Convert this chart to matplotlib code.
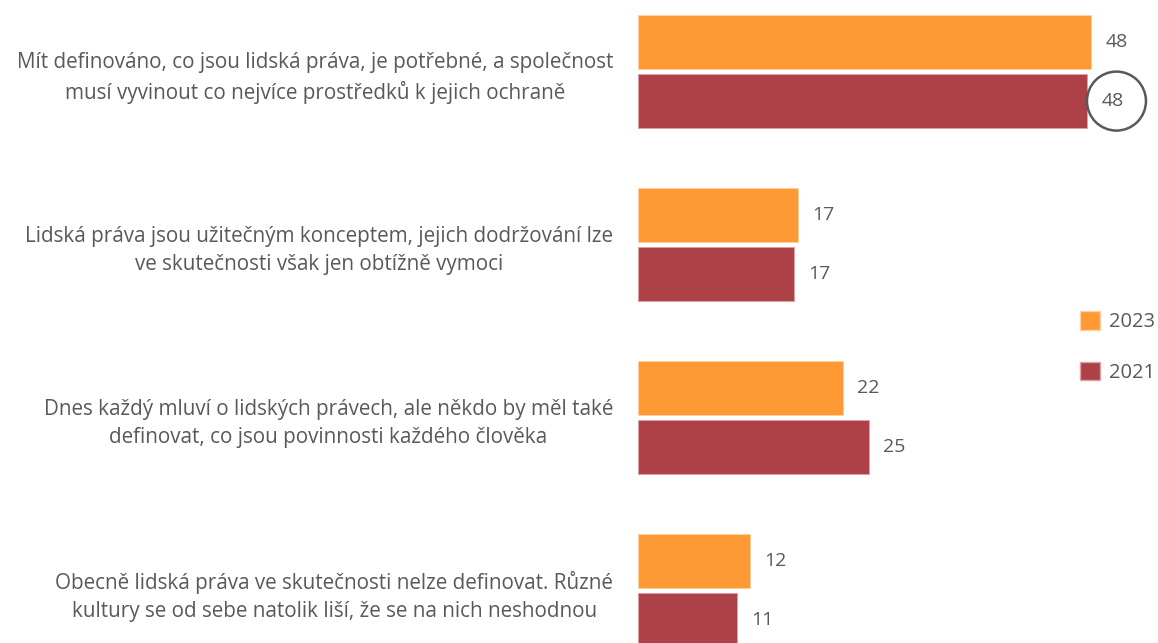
import numpy as np
import matplotlib.pyplot as plt
from matplotlib.patches import Ellipse, Patch

plt.rcParams['font.family'] = ['Open Sans', 'DejaVu Sans']

categories = [
    "Mít definováno, co jsou lidská práva, je potřebné, a společnost\nmusí vyvinout co nejvíce prostředků k jejich ochraně",
    "Lidská práva jsou užitečným konceptem, jejich dodržování lze\nve skutečnosti však jen obtížně vymoci",
    "Dnes každý mluví o lidských právech, ale někdo by měl také\ndefinovat, co jsou povinnosti každého člověka",
    "Obecně lidská práva ve skutečnosti nelze definovat. Různé\nkultury se od sebe natolik liší, že se na nich neshodnou",
]
values_2023 = [48.2, 17.0, 21.8, 11.9]
values_2021 = [47.8, 16.6, 24.6, 10.55]
series_names = ["2023", "2021"]

COL_2023 = "#ff9933"
COL_2021 = "#ae4047"
TXT = "#595959"

fig = plt.figure(figsize=(11.58, 6.43), dpi=100)
# axes spans whole height; y units: one category = 173 px
ax = fig.add_axes([638 / 1158, 0, 517 / 1158, 1])

y = np.arange(len(categories))
off = 0.171
h = 0.312
b1 = ax.barh(y - off, values_2023, height=h, color=COL_2023, edgecolor="#ffd0a0", linewidth=0.6)
b2 = ax.barh(y + off, values_2021, height=h, color=COL_2021, edgecolor="#e0a0a4", linewidth=0.6)

ax.set_xlim(0, 55)
ax.set_ylim((643 - 71.5) / 173, -71.5 / 173)

for bars in (b1, b2):
    for r in bars:
        w = r.get_width()
        ax.text(w + 1.5, r.get_y() + r.get_height() / 2, f"{w:.0f}",
                va="center", ha="left", fontsize=14, color=TXT)

# circle highlight around first 2021 label
circ = Ellipse((values_2021[0] + 3.1, 0 + off), width=59 / 9.4, height=59 / 173,
               fill=False, edgecolor=TXT, linewidth=1.8, clip_on=False)
ax.add_patch(circ)

ax.set_yticks(y)
ax.set_yticklabels(categories, fontsize=14.9, color=TXT, multialignment="center",
                   linespacing=1.42)
ax.tick_params(axis="y", length=0, pad=18)
ax.set_xticks([])
for s in ax.spines.values():
    s.set_visible(False)

handles = [Patch(facecolor=COL_2023, edgecolor="#ffd0a0"),
           Patch(facecolor=COL_2021, edgecolor="#e0a0a4")]
leg = fig.legend(handles, series_names, loc="center left",
                 bbox_to_anchor=(1062 / 1158, 1 - 347 / 643), frameon=False,
                 fontsize=14.5, labelspacing=1.45, handlelength=1.0, handleheight=1.0,
                 handletextpad=0.45)
for t in leg.get_texts():
    t.set_color(TXT)

fig.savefig("out.png", dpi=100)
